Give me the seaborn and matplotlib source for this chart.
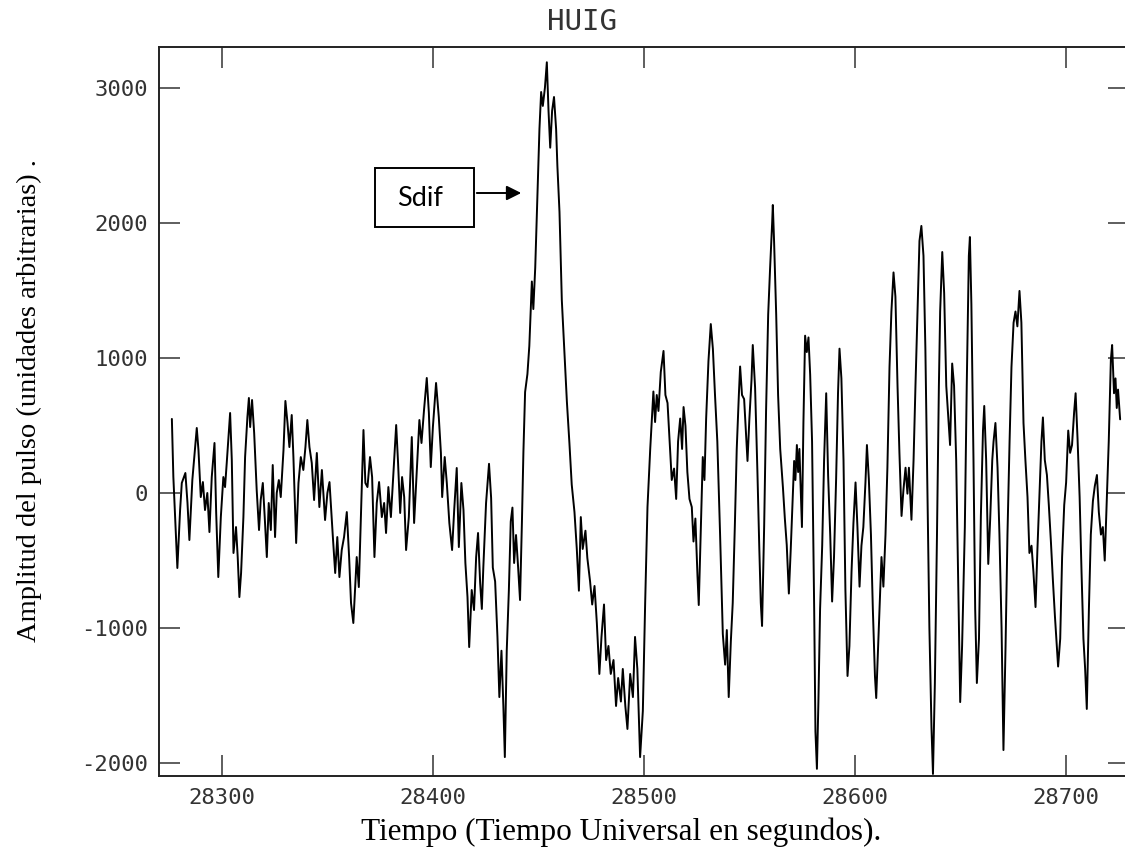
import matplotlib
matplotlib.use("Agg")
import matplotlib.pyplot as plt
import seaborn as sns
import numpy as np
from matplotlib.patches import Rectangle, FancyArrowPatch

# ---- data ----
tiempo = [
    28276.2, 28276.9, 28278.8, 28280.1, 28280.9, 28282.6, 28283.6, 28284.5, 28285.9, 28288.0,
    28288.8, 28289.9, 28290.9, 28291.9, 28293.0, 28294.0, 28295.1, 28296.4, 28297.2, 28298.2,
    28299.4, 28300.6, 28301.4, 28302.2, 28303.8, 28304.6, 28305.4, 28306.6, 28307.4, 28308.2,
    28309.0, 28310.1, 28310.9, 28312.0, 28312.7, 28313.3, 28314.2, 28315.2, 28316.4, 28317.5,
    28318.3, 28319.3, 28320.2, 28321.2, 28322.1, 28323.1, 28324.0, 28325.1, 28325.9, 28326.9,
    28327.8, 28329.1, 28330.0, 28331.0, 28331.9, 28333.0, 28333.8, 28335.1, 28336.2, 28337.3,
    28338.5, 28339.5, 28340.4, 28341.4, 28342.5, 28343.6, 28344.9, 28346.1, 28347.3,
    28348.8, 28349.9, 28350.9, 28352.5, 28353.6, 28354.6, 28355.6, 28356.7, 28357.8, 28359.1,
    28360.2, 28361.1, 28362.2, 28363.0, 28363.8, 28364.8, 28365.7, 28367.0, 28367.9, 28368.9,
    28370.1, 28371.1, 28372.2, 28373.3, 28374.4, 28375.7, 28376.8, 28377.7, 28378.8, 28380.0,
    28381.2, 28382.5, 28383.4, 28384.4, 28385.3, 28386.3, 28387.2, 28388.5, 28389.9, 28391.0,
    28392.3, 28393.5, 28394.5, 28395.7, 28397.0, 28398.0, 28398.9, 28399.9, 28401.4, 28402.7,
    28403.7, 28404.3, 28405.5, 28406.5, 28407.7, 28409.0, 28410.0, 28411.2, 28412.2, 28413.4,
    28414.4, 28415.3, 28416.3, 28417.1, 28418.3, 28419.4, 28420.4, 28421.3, 28422.3,
    28423.1, 28423.8, 28425.1, 28426.5, 28427.5, 28428.3, 28429.4, 28430.5, 28431.4, 28432.4,
    28433.3, 28434.0, 28434.9, 28435.9, 28436.8, 28437.6, 28438.4, 28439.3, 28440.3, 28441.2,
    28442.1, 28442.8, 28443.6, 28444.7, 28445.6, 28446.8, 28447.5, 28448.4, 28449.4, 28450.4,
    28451.2, 28452.0, 28453.0, 28453.9, 28454.7, 28455.5, 28456.4, 28457.3, 28458.3, 28458.9,
    28459.9, 28461.0, 28462.1, 28463.4, 28464.6, 28465.7, 28467.0, 28468.1, 28469.1, 28470.0,
    28470.9, 28472.2, 28473.1, 28474.4, 28475.4, 28476.5, 28477.6, 28478.8, 28479.8, 28481.0,
    28482.0, 28483.1, 28484.2, 28485.5, 28486.7, 28487.7, 28489.0, 28489.9, 28491.1, 28492.1,
    28493.4, 28494.7, 28495.7, 28496.8, 28498.1,
    28499.4, 28500.5, 28501.6, 28502.9, 28503.7, 28504.4, 28505.2, 28506.0, 28506.8, 28507.9,
    28509.2, 28510.1, 28511.1, 28512.0, 28513.1, 28514.2, 28515.2, 28516.1, 28517.1, 28518.0,
    28518.7, 28519.6, 28520.5, 28521.5, 28522.6, 28523.4, 28524.3, 28525.3, 28525.9, 28526.9,
    28527.8, 28528.6, 28529.4, 28530.5, 28531.6, 28532.6, 28533.6, 28534.7, 28536.0, 28537.3,
    28538.4, 28539.2, 28540.1, 28541.1, 28542.0, 28543.0, 28543.9, 28544.9, 28545.5, 28546.4,
    28547.4, 28548.3, 28549.0, 28549.9, 28550.9, 28551.5, 28552.6, 28553.7, 28554.6, 28555.3,
    28555.9, 28556.9, 28557.8, 28558.8, 28559.7, 28560.7, 28561.0, 28561.6, 28562.6, 28563.5,
    28564.5, 28565.8, 28566.7, 28567.6, 28568.6, 28569.5, 28570.5, 28571.1, 28571.7, 28572.4,
    28573.0, 28573.6, 28574.8, 28575.5, 28576.3, 28577.1, 28577.9, 28578.7, 28579.6, 28580.6,
    28581.2, 28581.9, 28582.6, 28583.4, 28584.4, 28585.3, 28586.3, 28587.2, 28588.2, 28589.1,
    28590.0, 28591.0, 28591.9, 28592.6, 28593.5, 28594.5, 28595.4, 28596.4, 28597.3, 28598.3,
    28599.2, 28600.2, 28601.1, 28602.1, 28603.0, 28603.9, 28604.9, 28605.6, 28606.5, 28607.5,
    28608.4, 28609.4, 28610.0, 28610.9, 28611.9, 28612.5, 28613.4, 28614.4, 28615.3, 28616.3,
    28617.2, 28618.2, 28619.1, 28620.1, 28621.0, 28622.0, 28622.9, 28623.9, 28624.8, 28625.5,
    28626.7, 28627.7, 28628.6, 28629.6, 28630.5, 28631.4, 28632.4, 28633.3, 28634.3, 28635.2,
    28636.2, 28636.9, 28637.8, 28638.8, 28639.7, 28640.3, 28641.3, 28642.2, 28643.2, 28644.1,
    28645.0, 28646.0, 28646.9, 28647.9, 28648.8, 28649.8, 28650.7, 28652.0, 28652.9, 28653.9,
    28654.4, 28655.1, 28656.1, 28656.9, 28657.7, 28658.7, 28659.6, 28660.6, 28661.2, 28662.1,
    28663.1, 28664.0, 28665.0, 28665.6, 28666.5, 28667.5, 28668.4, 28669.4, 28670.3, 28671.3,
    28672.2, 28673.2, 28674.1, 28675.1, 28676.0, 28676.9, 28677.9, 28678.8, 28679.8, 28680.7,
    28681.7, 28682.6, 28683.6, 28684.5, 28685.5, 28686.4, 28687.3, 28688.3, 28689.0, 28689.9,
    28690.9, 28691.8, 28692.8, 28693.7, 28694.7, 28695.6, 28696.2, 28697.2, 28698.1, 28699.1,
    28700.0, 28701.0, 28701.9, 28702.8, 28703.8, 28704.5, 28705.4, 28706.4, 28707.3, 28708.2,
    28709.0, 28709.8, 28710.8, 28711.7, 28712.7, 28713.6, 28714.6, 28715.5, 28716.5, 28717.4,
    28718.3, 28719.3, 28720.2, 28721.2, 28721.8, 28722.7, 28723.4, 28724.0, 28724.6, 28725.6,
]

amplitud = [
    548, 120, -555, -126, 74, 148, -74, -348, 96, 481,
    318, -30, 81, -126, 0, -289, 118, 370, -148, -622,
    -178, 118, 44, 222, 592, 244, -444, -252, -474, -770,
    -592, -178, 266, 562, 703, 488, 688, 444, 22, -274,
    -52, 74, -178, -474, -74, -274, 207, -326, 0, 96,
    -30, 318, 681, 518, 340, 577, 266, -370, 74, 266,
    170, 340, 540, 340, 222, -52, 296, -104, 170,
    -200, 0, 81, -326, -592, -326, -622, -422, -326, -141,
    -474, -814, -962, -718, -474, -696, -222, 466, 74, 44,
    266, 118, -474, -74, 81, -178, -74, -296, 44, -178,
    148, 503, 222, -148, 118, -30, -422, -178, 414, -222,
    170, 540, 370, 614, 851, 592, 192, 488, 814, 562,
    296, -30, 266, 74, -222, -422, -126, 185, -400, 74,
    -126, -518, -770, -1140, -718, -866, -474, -296, -666,
    -858, -552, -74, 216, -37, -552, -655, -1065, -1510, -1167,
    -1576, -1954, -1167, -723, -211, -108, -518, -311, -552, -792,
    -211, 303, 747, 880, 1088, 1565, 1361, 1667, 2180, 2693,
    2967, 2864, 2999, 3187, 2828, 2555, 2828, 2930, 2693, 2420,
    2079, 1428, 1088, 677, 370, 62, -141, -414, -723, -178,
    -414, -279, -481, -655, -825, -688, -962, -1339, -1065, -825,
    -1236, -1132, -1339, -1236, -1576, -1369, -1543, -1302, -1576, -1746,
    -1339, -1510, -1065, -1302, -1954,
    -1613, -814, -104, 326, 551, 751, 525, 725, 607, 895,
    1051, 725, 666, 409, 96, 181, -44, 381, 551, 326,
    636, 496, 155, -44, -104, -359, -189, -614, -829, -244,
    266, 96, 551, 977, 1250, 1066, 725, 381, -303, -1043,
    -1270, -1014, -1510, -1099, -814, -244, 326, 725, 936, 725,
    695, 437, 237, 551, 836, 1095, 779, 155, -414, -814,
    -984, -244, 607, 1320, 1661, 2005, 2131, 1861, 1320, 725,
    326, 39, -189, -385, -744, -414, -15, 237, 96, 355,
    155, 326, -252, 518, 1164, 1043, 1151, 875, 380, -858,
    -1766, -2041, -1547, -858, -390, 244, 738, 133, -308, -803,
    -474, 104, 740, 1068, 848, 244, -718, -1354, -1132, -582,
    -225, 78, -252, -693, -390, -252, 78, 355, 104, -308,
    -858, -1354, -1517, -1132, -718, -474, -693, -308, 187, 932,
    1343, 1632, 1453, 792, 297, -170, 22, 187, -5, 187,
    -198, 244, 792, 1343, 1865, 1976, 1755, 1068, -30, -995,
    -1739, -2079, -1406, -308, 792, 1343, 1783, 1480, 792, 573,
    355, 958, 792, 244, -582, -1547, -1132, -252, 792, 1755,
    1894, 1398, 244, -858, -1406, -1078, -170, 462, 644, 244,
    -525, -198, 244, 380, 518, 187, -308, -995, -1902, -1132,
    -308, 380, 932, 1260, 1343, 1233, 1495, 1260, 518, 244,
    -30, -444, -390, -582, -844, -417, -30, 380, 559, 244,
    133, -89, -363, -636, -913, -1132, -1284, -1078, -474, -89,
    78, 462, 297, 355, 599, 738, 407, -30, -582, -1078,
    -1298, -1598, -858, -308, -59, 52, 133, -141, -308, -252,
    -500, -30, 380, 984, 1095, 738, 848, 629, 765, 545,
]

x_ticks = [28300, 28400, 28500, 28600, 28700]
y_ticks = [-2000, -1000, 0, 1000, 2000, 3000]
titulo = "HUIG"
etiqueta_x = "Tiempo (Tiempo Universal en segundos)."
etiqueta_y = "Amplitud del pulso (unidades arbitrarias) ."
anotacion = "Sdif"

# ---- figure ----
sns.set_style("white")
W, H = 1125, 857
fig = plt.figure(figsize=(W / 100, H / 100), dpi=100)
fig.patch.set_facecolor("white")

def px(x0, y0, x1, y1):
    # pixel box (from top-left) -> figure fraction rect
    return [x0 / W, 1 - y1 / H, (x1 - x0) / W, (y1 - y0) / H]

ax = fig.add_axes(px(159, 47, 1129, 776))
sns.lineplot(x=tiempo, y=amplitud, ax=ax, color="black", linewidth=1.4,
             estimator=None, sort=False)

ax.set_xlim(28270.1, 28729.8)
ax.set_ylim(-2094, 3300)
ax.set_xticks(x_ticks)
ax.set_yticks(y_ticks)
ax.set_xticklabels([str(v) for v in x_ticks])
ax.set_yticklabels([str(v) for v in y_ticks])

mono = "DejaVu Sans Mono"
ax.tick_params(axis="both", which="major", direction="in", length=15, width=1.1,
               colors="#333333", labelsize=16, pad=8,
               top=True, right=True, bottom=True, left=True)
for lab in ax.get_xticklabels() + ax.get_yticklabels():
    lab.set_fontfamily(mono)
    lab.set_color("#333333")
ax.tick_params(axis="x", pad=9)

for side, sp in ax.spines.items():
    sp.set_visible(True)
    sp.set_color("#222222")
    sp.set_linewidth(1.4)
ax.grid(False)
ax.set_xlabel("")
ax.set_ylabel("")

fig.text(621 / W, 1 - 832 / H, etiqueta_x, ha="center", va="center",
         fontfamily="Liberation Serif", fontsize=22.5, color="black")
fig.text(29 / W, 1 - 401 / H, etiqueta_y, ha="center", va="center", rotation=90,
         fontfamily="Liberation Serif", fontsize=20.5, color="black")

fig.text(582 / W, 1 - 22 / H, titulo, ha="center", va="center",
         fontfamily=mono, fontsize=21, color="#333333")

# annotation box with arrow
r = px(375, 168, 474, 227)
fig.patches.append(Rectangle((r[0], r[1]), r[2], r[3], transform=fig.transFigure,
                             fill=False, edgecolor="black", linewidth=1.4))
fig.text(420 / W, 1 - 198 / H, anotacion, ha="center", va="center",
         fontfamily="Lato", fontsize=19.5, color="black")
fig.patches.append(FancyArrowPatch(
    (474 / W, 1 - 193 / H), (524 / W, 1 - 193 / H), transform=fig.transFigure,
    arrowstyle="-|>", mutation_scale=22, linewidth=1.4, color="black"))

fig.savefig("out.png", dpi=100, facecolor="white")
